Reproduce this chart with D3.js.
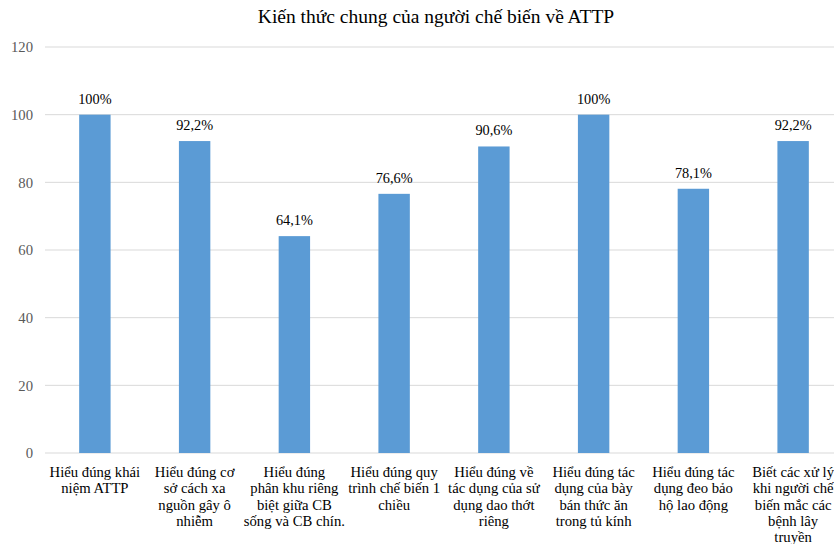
<!DOCTYPE html>
<html>
<head>
<meta charset="utf-8">
<script src="https://d3js.org/d3.v7.min.js"></script>
<style>
  body { margin: 0; background: #fff; }
  svg text { font-family: "Times New Roman", "Liberation Serif", serif; }
</style>
</head>
<body>
<script>
// data
var categories = [
  ["Hiểu đúng khái", "niệm ATTP"],
  ["Hiểu đúng cơ", "sở cách xa", "nguồn gây ô", "nhiễm"],
  ["Hiểu đúng", "phân khu riêng", "biệt giữa CB", "sống và CB chín."],
  ["Hiểu đúng quy", "trình chế biến 1", "chiều"],
  ["Hiểu đúng về", "tác dụng của sử", "dụng dao thớt", "riêng"],
  ["Hiểu đúng tác", "dụng của bày", "bán thức ăn", "trong tủ kính"],
  ["Hiểu đúng tác", "dụng đeo bảo", "hộ lao động"],
  ["Biết các xử lý", "khi người chế", "biến mắc các", "bệnh lây", "truyền"]
];
var values = [100, 92.2, 64.1, 76.6, 90.6, 100, 78.1, 92.2];
var valueLabels = ["100%", "92,2%", "64,1%", "76,6%", "90,6%", "100%", "78,1%", "92,2%"];
var yTicks = [0, 20, 40, 60, 80, 100, 120];
var title = "Kiến thức chung của người chế biến về ATTP";

var W = 834, H = 544;
var margin = {top: 47, left: 45, bottom: 91, right: -9};
var serif = "'Times New Roman', 'Liberation Serif', serif";

var svg = d3.select("body").append("svg")
    .attr("width", W)
    .attr("height", H);

var x = d3.scaleBand()
    .domain(d3.range(values.length))
    .range([margin.left, W - margin.right])
    .paddingInner(0.685)
    .paddingOuter(0.3425);

var y = d3.scaleLinear()
    .domain([0, 120])
    .range([H - margin.bottom, margin.top]);

// title
svg.append("text")
    .attr("x", 436)
    .attr("y", 23)
    .attr("text-anchor", "middle")
    .style("font-family", serif)
    .style("font-size", "19.5px")
    .attr("fill", "#000")
    .text(title);

// gridlines
svg.append("g")
  .selectAll("line")
  .data(yTicks)
  .join("line")
    .attr("x1", margin.left)
    .attr("x2", W)
    .attr("y1", d => y(d))
    .attr("y2", d => y(d))
    .attr("stroke", "#d9d9d9")
    .attr("stroke-width", 1);

// y axis labels
var yAxis = d3.axisLeft(y).tickValues(yTicks).tickSize(0).tickPadding(12);
svg.append("g")
    .attr("transform", "translate(" + margin.left + ",0)")
    .call(yAxis)
    .call(g => g.select(".domain").remove())
    .call(g => g.selectAll("text")
        .style("font-family", serif)
        .style("font-size", "14.7px")
        .attr("fill", "#595959"));

// bars
svg.append("g")
  .selectAll("rect")
  .data(values)
  .join("rect")
    .attr("x", (d, i) => x(i))
    .attr("y", d => y(d))
    .attr("width", x.bandwidth())
    .attr("height", d => y(0) - y(d))
    .attr("fill", "#5b9bd5");

// value labels
svg.append("g")
  .selectAll("text")
  .data(values)
  .join("text")
    .attr("x", (d, i) => x(i) + x.bandwidth() / 2)
    .attr("y", d => y(d) - 11)
    .attr("text-anchor", "middle")
    .style("font-family", serif)
    .style("font-size", "14.3px")
    .attr("fill", "#000")
    .text((d, i) => valueLabels[i]);

// category labels
var cat = svg.append("g")
  .selectAll("text")
  .data(categories)
  .join("text")
    .attr("x", (d, i) => x(i) + x.bandwidth() / 2)
    .attr("y", 477)
    .attr("text-anchor", "middle")
    .style("font-family", serif)
    .style("font-size", "14.7px")
    .attr("fill", "#000");

cat.each(function (lines, i) {
  var t = d3.select(this);
  lines.forEach(function (ln, j) {
    t.append("tspan")
      .attr("x", x(i) + x.bandwidth() / 2)
      .attr("dy", j === 0 ? 0 : 16.3)
      .text(ln);
  });
});
</script>
</body>
</html>
